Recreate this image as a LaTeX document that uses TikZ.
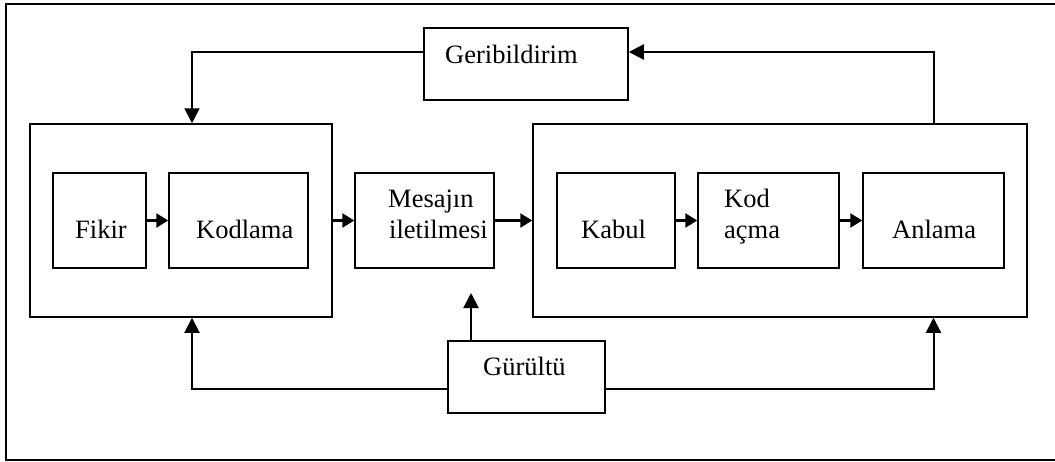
\documentclass[tikz,border=0pt]{standalone}
\usepackage{fontspec}
\setmainfont{Liberation Serif}
\usetikzlibrary{arrows.meta}
\begin{document}
\begin{tikzpicture}[x=1pt,y=-1pt,
  box/.style={draw, line width=1.5pt, inner sep=0pt, rectangle},
  lbl/.style={anchor=base west, inner sep=0pt, font=\fontsize{26.5}{31}\selectfont},
  arr/.style={line width=2pt, -{Triangle[length=15pt,width=15pt]}},
  sarr/.style={line width=2.6pt, -{Triangle[length=12pt,width=14pt]}, shorten <=-1pt}]
\useasboundingbox (0,0) rectangle (1055,461);

% outer frame (open on the right)
\draw[line width=1.5pt] (1060,4) -- (6,4) -- (6,460) -- (1060,460);

% feedback box
\node[box, minimum width=204pt, minimum height=72pt] (geri) at (526,64) {};
\node[lbl] (geriT) at (445,63) {Geribildirim};

% sender group
\node[box, minimum width=302pt, minimum height=193pt] (L) at (181,220.5) {};
\node[box, minimum width=93pt, minimum height=95pt] (fikir) at (99.5,220.5) {};
\node[lbl] (fikirT) at (75,238) {Fikir};
\node[box, minimum width=139pt, minimum height=95pt] (kod) at (238.5,220.5) {};
\node[lbl] (kodT) at (196,238) {Kodlama};

% channel
\node[box, minimum width=139pt, minimum height=95pt] (mesaj) at (424.5,220.5) {};
\node[lbl] (mesajT1) at (388,207) {Mesajın};
\node[lbl] (mesajT2) at (389,238) {iletilmesi};

% receiver group
\node[box, minimum width=494pt, minimum height=193pt] (R) at (780,220.5) {};
\node[box, minimum width=118pt, minimum height=95pt] (kabul) at (616,220.5) {};
\node[lbl] (kabulT) at (581,238) {Kabul};
\node[box, minimum width=141pt, minimum height=95pt] (kodac) at (768.5,220.5) {};
\node[lbl] (kodacT1) at (724,207) {Kod};
\node[lbl] (kodacT2) at (724,238) {açma};
\node[box, minimum width=141pt, minimum height=95pt] (anlama) at (933.5,220.5) {};
\node[lbl] (anlamaT) at (892,238) {Anlama};

% noise
\node[box, minimum width=157pt, minimum height=72pt] (gur) at (526.5,377) {};
\node[lbl] (gurT) at (483,375) {Gürültü};
\coordinate (noise) at (471,293);

% forward flow
\draw[sarr] (fikir.east) -- (kod.west);
\draw[sarr] (L.east) -- (mesaj.west);
\draw[sarr] (mesaj.east) -- (R.west);
\draw[sarr] (kabul.east) -- (kodac.west);
\draw[sarr] (kodac.east) -- (anlama.west);

% feedback loop
\draw[arr] ([yshift=12pt]geri.west) -| ([xshift=11pt]L.north);
\draw[arr] (anlama |- R.north) |- ([yshift=12pt]geri.east);

% noise influences
\draw[arr] ([yshift=-12pt]gur.west) -| ([xshift=11pt]L.south);
\draw[arr] ([yshift=-12pt]gur.east) -| (anlama |- R.south);
\draw[arr] (noise |- gur.north) -- (noise);
\end{tikzpicture}
\end{document}
